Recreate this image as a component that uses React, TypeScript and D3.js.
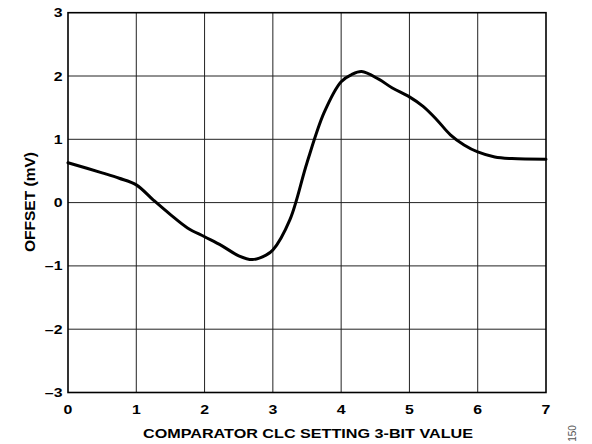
import React from "react";
import * as d3 from "d3";

const xTicks = [0, 1, 2, 3, 4, 5, 6, 7];
const yTicks = [-3, -2, -1, 0, 1, 2, 3];
const yTickLabels = ["–3", "–2", "–1", "0", "1", "2", "3"];

const xValues = [0, 0.5, 0.75, 1, 1.25, 1.5, 1.75, 2, 2.25, 2.5, 2.7, 2.9, 3, 3.25, 3.5, 3.75, 4, 4.15, 4.3, 4.55, 4.75, 5, 5.2, 5.4, 5.6, 5.8, 6, 6.25, 6.5, 7];
const offsetValues = [0.63, 0.47, 0.385, 0.28, 0.04, -0.19, -0.4, -0.54, -0.68, -0.84, -0.9, -0.83, -0.75, -0.27, 0.63, 1.42, 1.91, 2.02, 2.07, 1.95, 1.81, 1.67, 1.52, 1.31, 1.07, 0.91, 0.8, 0.72, 0.695, 0.685];

const xTitle = "COMPARATOR CLC SETTING 3-BIT VALUE";
const yTitle = "OFFSET (mV)";
const figNote = "150";

export default function App() {
  const W = 592, H = 444;
  const left = 68, right = 546, top = 12.7, bottom = 392.5;
  const x = d3.scaleLinear().domain([0, 7]).range([left, right]);
  const y = d3.scaleLinear().domain([-3, 3]).range([bottom, top]);
  const pts: [number, number][] = xValues.map((v, i) => [v, offsetValues[i]]);
  const line = d3.line<[number, number]>().x(d => x(d[0])).y(d => y(d[1])).curve(d3.curveCatmullRom.alpha(0.5));
  const font = "'Liberation Sans', Arial, Helvetica, sans-serif";
  const sx = 1.27;
  return (
    <svg width={W} height={H} style={{ position: "absolute", left: 0, top: 0 }} fontFamily={font}>
      <rect width={W} height={H} fill="#fff" />
      {xTicks.slice(1, -1).map(t => (
        <line key={"gx" + t} x1={x(t)} x2={x(t)} y1={top} y2={bottom} stroke="#222" strokeWidth={1} />
      ))}
      {yTicks.slice(1, -1).map(t => (
        <line key={"gy" + t} x1={left} x2={right} y1={y(t)} y2={y(t)} stroke="#222" strokeWidth={1} />
      ))}
      <rect x={left} y={top} width={right - left} height={bottom - top} fill="none" stroke="#000" strokeWidth={1.6} />
      <path d={line(pts) || ""} fill="none" stroke="#000" strokeWidth={3} strokeLinejoin="round" strokeLinecap="round" />
      {xTicks.map(t => (
        <text key={"tx" + t} transform={`translate(${x(t)}, ${bottom + 21.5}) scale(${sx}, 1)`} textAnchor="middle" fontSize={12.5} fontWeight="bold">{t}</text>
      ))}
      {yTicks.map((t, i) => (
        <text key={"ty" + t} transform={`translate(${left - 5.5}, ${y(t) + 4.5}) scale(${sx}, 1)`} textAnchor="end" fontSize={12.5} fontWeight="bold">{yTickLabels[i]}</text>
      ))}
      <text x={308} y={437.5} textAnchor="middle" fontSize={12.6} fontWeight="bold" textLength={330} lengthAdjust="spacingAndGlyphs">{xTitle}</text>
      <text transform={`translate(35, 202) rotate(-90)`} textAnchor="middle" fontSize={14} fontWeight="bold" textLength={100} lengthAdjust="spacingAndGlyphs">{yTitle}</text>
      <text transform={`translate(576, 433.5) rotate(-90)`} textAnchor="middle" fontSize={10} fill="#555">{figNote}</text>
    </svg>
  );
}
